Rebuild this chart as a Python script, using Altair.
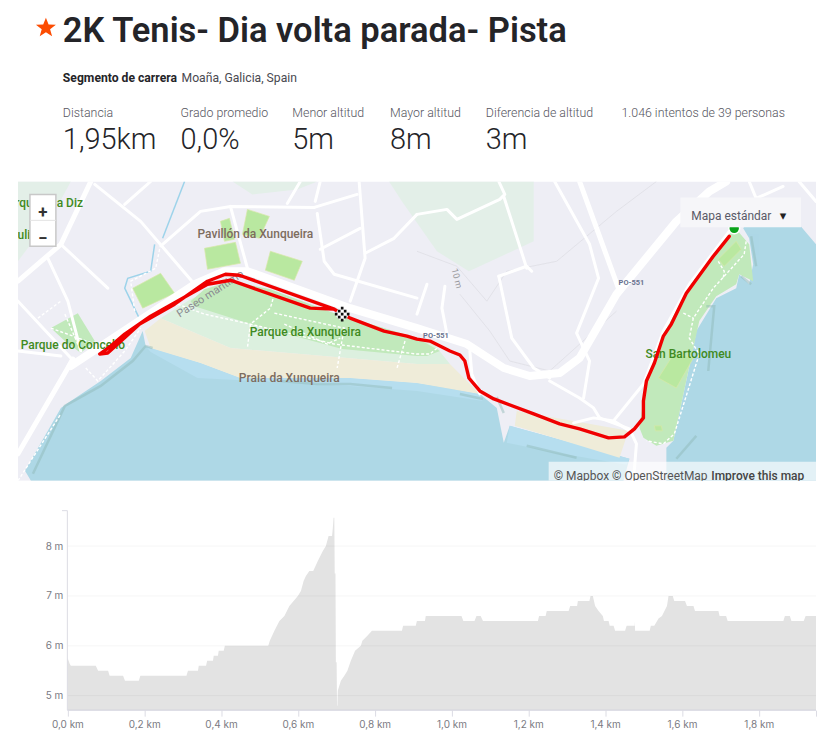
import altair as alt
import pandas as pd

# ---------- header text ----------
TITLE = "2K Tenis- Dia volta parada- Pista"
SUB_BOLD = "Segmento de carrera"
SUB_TEXT = "Moaña, Galicia, Spain"
STAT_LABELS = ["Distancia", "Grado promedio", "Menor altitud", "Mayor altitud", "Diferencia de altitud", "1.046 intentos de 39 personas"]
STAT_VALUES = ["1,95km", "0,0%", "5m", "8m", "3m", ""]
STAT_X = [45, 163, 275, 373, 469, 605]

# ---------- elevation profile ----------
KM = [0.000,0.006,0.009,0.074,0.080,0.106,0.110,0.145,0.150,0.186,0.190,0.310,0.314,0.340,0.342,0.361,0.364,0.379,0.381,0.392,0.394,0.407,0.410,0.523,
      0.527,0.539,0.552,0.565,0.578,0.600,0.608,0.615,0.621,0.630,0.640,0.652,0.665,0.673,0.680,0.689,0.691,0.693,0.695,0.696,0.698,0.699,0.701,0.702,0.703,0.704,
      0.708,0.712,0.721,0.729,0.738,0.749,0.764,0.768,0.781,0.793,0.871,0.874,0.907,0.910,0.931,0.933,
      1.026,1.031,1.060,1.065,1.076,1.082,1.225,1.228,1.245,1.248,1.305,1.309,1.327,1.329,1.359,1.362,1.368,1.374,1.383,1.394,1.397,1.409,1.412,1.422,1.426,1.452,1.456,1.477,1.4775,1.478,
      1.516,1.519,1.528,1.539,1.548,1.561,1.565,1.576,1.580,1.608,1.613,1.630,1.634,1.695,1.698,1.715,1.719,1.864,1.868,1.881,1.885,1.917,1.922,1.949]
ELEV = [5.77,5.64,5.6,5.6,5.5,5.5,5.4,5.4,5.3,5.3,5.4,5.4,5.5,5.5,5.6,5.6,5.7,5.7,5.8,5.8,5.9,5.9,6.0,6.0,
        6.1,6.3,6.5,6.6,6.8,7.0,7.1,7.3,7.4,7.5,7.5,7.7,7.9,8.0,8.2,8.2,8.35,8.57,8.57,7.45,7.45,5.67,5.67,4.8,4.8,5.1,
        5.2,5.3,5.4,5.5,5.7,5.9,6.0,6.1,6.2,6.3,6.3,6.4,6.4,6.5,6.5,6.6,
        6.6,6.5,6.5,6.6,6.6,6.5,6.5,6.6,6.6,6.7,6.7,6.8,6.8,6.9,6.9,7.0,7.0,6.8,6.7,6.6,6.5,6.5,6.4,6.4,6.3,6.3,6.4,6.4,6.5,6.3,
        6.3,6.4,6.4,6.55,6.6,6.8,7.0,7.0,6.9,6.9,6.8,6.8,6.7,6.7,6.6,6.6,6.5,6.5,6.6,6.6,6.5,6.5,6.6,6.6]
X_TICKS = [0, 0.2, 0.4, 0.6, 0.8, 1.0, 1.2, 1.4, 1.6, 1.8, 1.949]
Y_TICKS = [5, 6, 7, 8]
X_DOMAIN = [-0.1286, 1.949]
Y_DOMAIN = [4.71, 8.71]

# ---------- map geometry (map coordinates) ----------
LAND = [[[0,0],[800,0],[800,300],[0,300]]]
WATER = [
    [[7,290],[43,227],[50,222],[83,200],[113,177],[125,150],[128,165],[133,167],[183,182],[223,197],[267,197],[333,197],[400,202],[433,207],[463,213],[480,227],[487,262],[493,245],[500,247],[613,278],[607,300],[13,300]],
    [[650,300],[650,267],[657,260],[677,167],[680,150],[700,117],[720,107],[723,93],[733,103],[737,83],[733,57],[727,47],[730,43],[783,43],[800,63],[800,300]],
]
SHALLOW = [
    [[128,165],[183,182],[223,197],[333,197],[400,202],[463,213],[466,220],[400,210],[333,205],[260,201],[180,197],[133,171]],
    [[493,245],[500,247],[613,278],[610,284],[540,272],[490,262]],
]
BEACH = [
    [[127,150],[143,137],[213,167],[400,183],[433,183],[463,213],[400,202],[333,197],[223,197],[183,182],[133,167]],
    [[500,230],[612,250],[603,277],[498,245]],
]
PARK_LIGHT = [
    [[143,137],[173,118],[213,100],[317,132],[400,157],[417,163],[433,183],[400,183],[213,167]],
    [[372,0],[517,0],[517,60],[452,90],[420,70],[385,20]],
    [[215,0],[300,0],[280,8],[235,13]],
    [[0,0],[53,0],[35,33],[0,80]],
]
PARK_DARK = [
    [[173,120],[187,108],[213,100],[253,108],[317,132],[400,157],[423,170],[410,175],[400,175],[325,168],[233,143],[177,125]],
    [[713,53],[720,48],[733,63],[737,100],[723,93],[720,103],[700,115],[683,140],[677,167],[657,260],[640,265],[627,257],[623,247],[627,217],[633,190],[647,153],[667,113],[693,77]],
    [[33,147],[60,132],[77,160],[63,172],[47,160]],
]
FIELDS = [
    [[115,107],[143,92],[157,112],[125,127]],
    [[187,67],[218,61],[223,82],[190,88]],
    [[203,40],[212,37],[217,58],[207,60]],
    [[230,28],[252,35],[242,57],[225,53]],
    [[253,70],[285,80],[277,99],[248,89]],
    [[702,78],[720,60],[725,68],[708,85]],
    [[642,197],[658,172],[677,177],[660,207]],
    [[638,245],[645,245],[646,250],[639,250]],
]
CONTOURS = [
    [[443,113],[473,150],[493,180],[533,190],[600,130]],
    [[400,70],[440,85],[470,120],[490,90],[540,80],[600,30],[640,0]],
]
ROADS = {
    8: [[[53,185],[177,103],[207,90],[230,90],[333,127],[400,147],[450,163],[487,187],[513,195],[543,192],[563,177],[600,113],[660,40],[693,10],[710,0]]],
    5: [[[73,0],[43,63],[0,100]], [[0,273],[50,187],[55,178]], [[563,0],[603,110]]],
    3: [[[0,120],[53,177]], [[77,3],[123,40],[177,103]], [[30,77],[50,120],[63,170]], [[145,63],[183,30],[213,25],[297,26]],
        [[213,25],[230,87]], [[297,26],[340,13]], [[283,0],[270,22]], [[303,0],[298,20]], [[300,32],[307,80],[317,93],[400,117]],
        [[342,0],[348,77],[333,120]], [[303,68],[343,47]], [[348,72],[377,57],[400,33]], [[0,170],[43,175]],
        [[400,33],[430,28],[440,38],[483,18],[488,13],[482,0]], [[487,15],[510,87]], [[482,95],[510,85],[515,90]],
        [[482,95],[495,157],[517,187],[533,197]], [[538,0],[573,63],[582,97],[560,152],[573,180],[567,217]],
        [[533,200],[563,217],[577,227],[583,237],[613,248],[620,263],[617,300]], [[557,242],[577,237],[597,240],[613,250]],
        [[597,240],[627,203],[647,150],[673,103],[713,50]], [[410,103],[400,133]], [[428,105],[425,127],[430,153]],
        [[453,170],[455,193],[463,213]], [[43,63],[90,107]], [[107,23],[133,0]], [[733,0],[740,17],[767,5]], [[783,0],[800,20]]],
}
PATHS = [
    [[160,123],[187,133],[233,143],[317,163],[400,173],[413,173],[425,163]],
    [[257,113],[253,127],[233,143],[230,167]],
    [[257,132],[327,147],[320,187]],
    [[267,143],[310,163],[323,157]],
    [[388,160],[380,187]],
    [[730,60],[728,73],[697,107],[677,137],[673,157],[683,173],[658,253],[647,263],[630,260]],
    [[667,132],[677,137]],
    [[702,80],[708,90],[707,97]],
    [[68,187],[80,200],[107,170],[123,147]],
    [[143,63],[138,87],[113,100],[117,130]],
    [[20,137],[43,120]],
    [[0,300],[43,233]],
    [[33,147],[77,163]],
    [[47,133],[63,170]],
]
STREAM = [[[167,0],[145,57]], [[137,63],[133,90],[110,97],[107,107],[123,140]]]
SHADOW = [
    [[15,293],[47,225],[83,205],[115,180],[128,165],[135,167]],
    [[263,200],[300,203],[333,203],[375,207]],
    [[480,216],[487,232]],
    [[443,213],[466,218]],
    [[725,95],[735,103]],
    [[735,55],[740,85]],
    [[690,125],[698,125],[692,190]],
    [[510,265],[560,277]],
    [[680,255],[660,278]],
]
ROUTE = [[713,55],[697,75],[670,112],[655,143],[647,155],[638,182],[630,200],[627,220],[627,237],[618,248],[608,256],[592,257],[563,248],[543,243],[517,233],[477,218],[463,210],[452,197],[448,180],[443,174],[433,170],[413,160],[400,158],
         [390,155],[367,150],[333,137],[317,128],[293,127],[233,106],[213,99],[190,103],[133,135],[107,153],[93,165],[82,173],[90,172],[100,163],[122,143],[157,123],[190,100],[208,93],[222,94],[317,128]]
CONTROL_BOX = [[[12,13],[38,13],[38,65],[12,65]]]
CONTROL_LINE = [[12,39],[38,39]]
LAYER_BOX = [[[664,16],[785,16],[785,46],[664,46]]]
ATTR_BOX = [[[532,281],[800,281],[800,300],[532,300]]]
START_POINT = [[718,47]]
FINISH_POINT = [[325,133]]
CHECKERS = [[322,130],[328,130],[325,133],[322,136],[328,136],[319,133],[331,133],[325,127],[325,139]]

LABELS_GREEN = [("Parque da Xunqueira", 288, 151), ("San Bartolomeu", 672, 173), ("Parque do Concello", 55, 164), ("a Diz", 52, 22), ("rqu", 6, 22), ("uli", 6, 54)]
LABELS_BROWN = [("Pavillón da Xunqueira", 238, 53), ("Praia da Xunqueira", 272, 197)]
LABELS_ROAD = [("PO-551", 615, 102), ("PO-551", 419, 155)]
LABEL_PASEO = [("Paseo marítimo", 193, 113)]
LABEL_CONTOUR = [("10 m", 440, 97)]
LABEL_CTRL = [("+", 25, 32), ("−", 25, 58)]
LABEL_LAYER = [("Mapa estándar", 675, 35)]
LABEL_CARET = [("▾", 767, 35)]
LABEL_ATTR = [("© Mapbox © OpenStreetMap", 537, 295)]
LABEL_ATTR_B = [("Improve this map", 695, 295)]

PROJ = dict(type="identity", scale=1, translate=[0, 0])


def polys(rings, **style):
    values = [{"type": "Feature", "properties": {}, "geometry": {"type": "Polygon", "coordinates": [r + [r[0]]]}} for r in rings]
    return alt.Chart(alt.Data(values=values)).mark_geoshape(**style).project(**PROJ)


def lines(paths, **style):
    values = [{"type": "Feature", "properties": {}, "geometry": {"type": "LineString", "coordinates": p}} for p in paths]
    return alt.Chart(alt.Data(values=values)).mark_geoshape(filled=False, **style).project(**PROJ)


def labels(rows, **style):
    df = pd.DataFrame(rows, columns=["t", "lon", "lat"])
    return alt.Chart(df).mark_text(**style).encode(longitude="lon:Q", latitude="lat:Q", text="t:N").project(**PROJ)


def dots(points, shape, size, **style):
    df = pd.DataFrame(points, columns=["lon", "lat"])
    return alt.Chart(df).mark_point(shape=shape, size=size, filled=True, **style).encode(longitude="lon:Q", latitude="lat:Q").project(**PROJ)


FONT = "Roboto"
map_layers = [
    polys(LAND, fill="#eeeef5", stroke=None),
    polys(PARK_LIGHT[:1], fill="#dcf0df", stroke=None),
    polys(PARK_LIGHT[1:], fill="#e3efe8", stroke=None),
    polys(WATER, fill="#aed8e6", stroke=None),
    polys(SHALLOW, fill="#b6deef", stroke=None),
    polys(BEACH, fill="#efecd9", stroke=None),
    polys(PARK_DARK, fill="#c1e9bb", stroke=None),
    polys(FIELDS, fill="#b9e8a0", stroke="#d8e8a8", strokeWidth=0.7),
    lines(SHADOW, stroke="#8fb9b6", strokeWidth=2.5, opacity=0.45),
    lines(CONTOURS, stroke="#dedee4", strokeWidth=0.8),
    lines(STREAM, stroke="#9dd3ea", strokeWidth=1.5),
]
for w, segs in ROADS.items():
    map_layers.append(lines(segs, stroke="white", strokeWidth=w, strokeCap="round", strokeJoin="round"))
map_layers += [
    lines(PATHS, stroke="white", strokeWidth=1.4, strokeDash=[3, 2]),
    labels(LABELS_GREEN, font=FONT, fontSize=12, fontWeight=500, color="#3f8a22", align="center"),
    labels(LABELS_BROWN, font=FONT, fontSize=12, fontWeight=500, color="#7d6c5e", align="center"),
    labels(LABELS_ROAD, font=FONT, fontSize=7.5, fontWeight=700, color="#69728f", align="center"),
    labels(LABEL_PASEO, font=FONT, fontSize=11, color="#8a8a90", align="center", angle=327),
    labels(LABEL_CONTOUR, font=FONT, fontSize=9, color="#9a9a9f", align="center", angle=75),
    lines([ROUTE], stroke="#f00000", strokeWidth=3.4, strokeJoin="round", strokeCap="round"),
    dots(FINISH_POINT, "circle", 150, color="white", opacity=1),
    dots(CHECKERS, "square", 7, color="#111111", opacity=1),
    dots(START_POINT, "circle", 120, color="#0aa31a", stroke="white", strokeWidth=1.5, opacity=1),
    polys(CONTROL_BOX, fill="white", stroke="#c8c8c8", strokeWidth=1.5),
    lines([CONTROL_LINE], stroke="#e4e4e4", strokeWidth=1),
    labels(LABEL_CTRL, font=FONT, fontSize=17, fontWeight=700, color="#333333", align="center"),
    polys(LAYER_BOX, fill="#f6f6f9", stroke=None),
    labels(LABEL_LAYER, font=FONT, fontSize=12, color="#5a5a68", align="left"),
    labels(LABEL_CARET, font="DejaVu Sans", fontSize=13, color="#222222", align="center"),
    polys(ATTR_BOX, fill="white", opacity=0.65, stroke=None),
    labels(LABEL_ATTR, font=FONT, fontSize=12, color="#555555", align="left"),
    labels(LABEL_ATTR_B, font=FONT, fontSize=12, fontWeight=500, color="#444444", align="left"),
]
map_chart = alt.layer(*map_layers).properties(width=800, height=300)

# ---------- header ----------
NONE_X = alt.X("x:Q", scale=alt.Scale(domain=[0, 800], range=[0, 800]), axis=None)
NONE_Y = alt.Y("y:Q", scale=alt.Scale(domain=[0, 173], range=[0, 173]), axis=None)


def htext(rows, **style):
    df = pd.DataFrame(rows, columns=["t", "x", "y"])
    return alt.Chart(df).mark_text(align="left", baseline="alphabetic", font=FONT, **style).encode(x=NONE_X, y=NONE_Y, text="t:N")


star = alt.Chart(pd.DataFrame({"x": [28], "y": [19]})).mark_point(shape="M0,-1L0.27,-0.33L1,-0.31L0.42,0.13L0.62,0.85L0,0.43L-0.62,0.85L-0.42,0.13L-1,-0.31L-0.27,-0.33Z", size=400, filled=True, color="#fc4c02", opacity=1).encode(x=NONE_X, y=NONE_Y)
header = alt.layer(
    star,
    htext([(TITLE, 45, 33)], fontSize=34.6, fontWeight=600, color="#242428"),
    htext([(SUB_BOLD, 45, 73)], fontSize=12.2, fontWeight=700, color="#242428"),
    htext([(SUB_TEXT, 164, 73)], fontSize=12.2, color="#494950"),
    htext([(l, x, 108) for l, x in zip(STAT_LABELS, STAT_X)], fontSize=12.4, fontWeight=300, color="#55555e"),
    htext([(v, x, 140) for v, x in zip(STAT_VALUES, STAT_X) if v], fontSize=29, fontWeight=300, color="#242428"),
).properties(width=800, height=173)

# ---------- elevation ----------
sx = alt.Scale(domain=X_DOMAIN, nice=False, zero=False)
sy = alt.Scale(domain=Y_DOMAIN, nice=False, zero=False)
AX_X = alt.Axis(values=X_TICKS, domain=False, grid=False, tickColor="#dcdce4", tickSize=6, labelFont="Inter", labelFontSize=10,
                labelColor="#7a7a82", labelPadding=3, labelFlush=False, title=None,
                labelExpr="datum.value > 1.9 ? '' : replace(format(datum.value, '.1f'), '.', ',') + ' km'")
AX_Y = alt.Axis(values=Y_TICKS, domain=False, grid=False, ticks=False, offset=-47, labelFont="Inter", labelFontSize=10,
                labelColor="#7a7a82", labelPadding=2, title=None, labelExpr="datum.value + ' m'")
prof = pd.DataFrame({"km": KM, "ele": ELEV})
area = alt.Chart(prof).mark_area(color="#e3e3e3", interpolate="linear", clip=True).encode(
    x=alt.X("km:Q", scale=sx, axis=AX_X),
    y=alt.Y("ele:Q", scale=sy, axis=AX_Y),
    y2=alt.value(200),
)
grid = alt.Chart(pd.DataFrame({"y": Y_TICKS, "a": [0.0] * 4, "b": [1.949] * 4})).mark_rule(color="#000000", opacity=0.045, strokeWidth=1).encode(
    x=alt.X("a:Q", scale=sx, axis=AX_X), x2="b:Q", y=alt.Y("y:Q", scale=sy, axis=AX_Y))
axis_x = alt.Chart(pd.DataFrame({"a": [0.0], "b": [1.949], "y": [4.71]})).mark_rule(color="#d0d0dc", strokeWidth=1).encode(
    x=alt.X("a:Q", scale=sx, axis=AX_X), x2="b:Q", y=alt.Y("y:Q", scale=sy, axis=AX_Y))
axis_y = alt.Chart(pd.DataFrame({"a": [0.0], "y": [4.71], "y1": [8.71]})).mark_rule(color="#dcdce4", strokeWidth=1).encode(
    x=alt.X("a:Q", scale=sx, axis=AX_X), y=alt.Y("y:Q", scale=sy, axis=AX_Y), y2="y1:Q")
top_tick = alt.Chart(pd.DataFrame({"a": [-0.014], "b": [0.0], "y": [8.71]})).mark_rule(color="#dcdce4", strokeWidth=1).encode(
    x=alt.X("a:Q", scale=sx, axis=AX_X), x2="b:Q", y=alt.Y("y:Q", scale=sy, axis=AX_Y))
elev = alt.layer(area, grid, axis_x, axis_y, top_tick).properties(width=800, height=200)

top = alt.vconcat(header, map_chart, spacing=0)
chart = alt.vconcat(top, elev, spacing=29).properties(padding={"left": 10, "top": 0, "right": 0, "bottom": 0}).configure_view(strokeWidth=0)
chart.save("out.html", embed_options={"renderer": "svg", "actions": False})
